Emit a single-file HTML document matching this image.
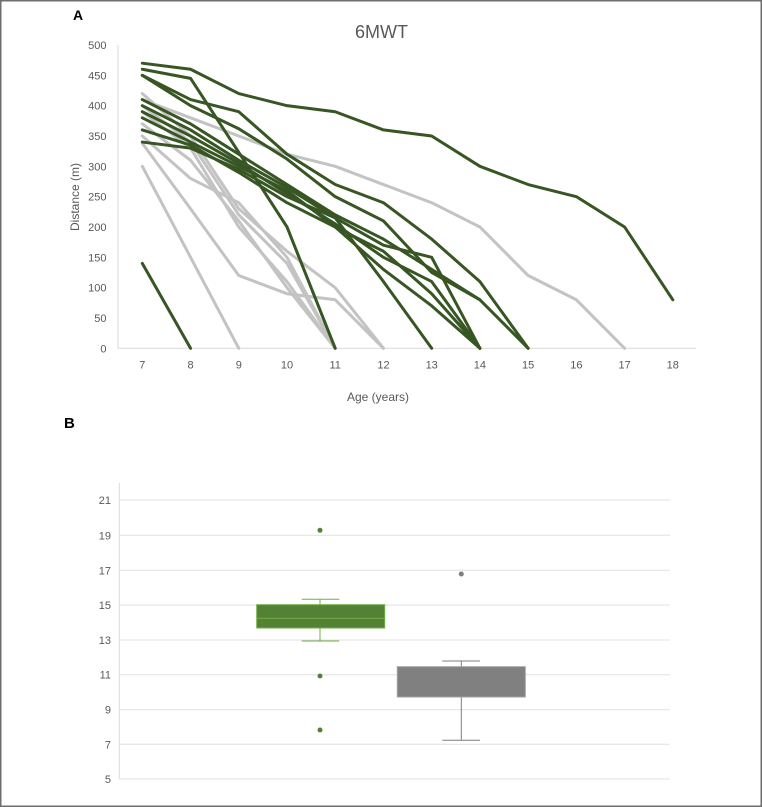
<!DOCTYPE html>
<html>
<head>
<meta charset="utf-8">
<style>
  html,body{margin:0;padding:0;background:#fff;}
  body{width:762px;height:807px;overflow:hidden;}
  svg{display:block;}
  text{font-family:"Liberation Sans",Arial,sans-serif;}
</style>
</head>
<body>
<svg width="762" height="807" viewBox="0 0 762 807" xmlns="http://www.w3.org/2000/svg">
  <rect x="0" y="0" width="762" height="807" fill="#fff"/>
  <rect x="0.75" y="0.75" width="760.5" height="805.5" fill="none" stroke="#6e6e6e" stroke-width="1.5"/>

  <!-- Panel A -->
  <text x="73" y="20" font-size="14" font-weight="bold" fill="#000">A</text>
  <text x="381.5" y="38" font-size="18" fill="#595959" text-anchor="middle">6MWT</text>

  <!-- axes -->
  <line x1="118" y1="45" x2="118" y2="348.3" stroke="#d9d9d9" stroke-width="1"/>
  <line x1="118" y1="348.3" x2="696" y2="348.3" stroke="#d9d9d9" stroke-width="1"/>

  <g font-size="11" fill="#595959" text-anchor="end">
    <text x="106.5" y="49">500</text>
    <text x="106.5" y="79.3">450</text>
    <text x="106.5" y="109.7">400</text>
    <text x="106.5" y="140">350</text>
    <text x="106.5" y="170.3">300</text>
    <text x="106.5" y="200.7">250</text>
    <text x="106.5" y="231">200</text>
    <text x="106.5" y="261.3">150</text>
    <text x="106.5" y="291.7">100</text>
    <text x="106.5" y="322">50</text>
    <text x="106.5" y="352.3">0</text>
  </g>
  <g font-size="11" fill="#595959" text-anchor="middle">
    <text x="142.3" y="368.5">7</text>
    <text x="190.5" y="368.5">8</text>
    <text x="238.8" y="368.5">9</text>
    <text x="287" y="368.5">10</text>
    <text x="335.2" y="368.5">11</text>
    <text x="383.5" y="368.5">12</text>
    <text x="431.7" y="368.5">13</text>
    <text x="479.9" y="368.5">14</text>
    <text x="528.1" y="368.5">15</text>
    <text x="576.4" y="368.5">16</text>
    <text x="624.6" y="368.5">17</text>
    <text x="672.8" y="368.5">18</text>
  </g>
  <text x="378" y="401" font-size="12" fill="#595959" text-anchor="middle">Age (years)</text>
  <text transform="translate(79,197) rotate(-90)" font-size="12" fill="#595959" text-anchor="middle">Distance (m)</text>

  <!-- data lines -->
  <g transform="translate(142.3,348.3) scale(48.23,-0.6066)" fill="none" stroke-linejoin="round" stroke-linecap="round">
    <g stroke="#c3c3c3">
      <polyline vector-effect="non-scaling-stroke" stroke-width="3" points="0,410 1,380 2,350 3,320 4,300 5,270 6,240 7,200 8,120 9,80 10,0"/>
      <polyline vector-effect="non-scaling-stroke" stroke-width="3" points="0,300 2,0"/>
      <polyline vector-effect="non-scaling-stroke" stroke-width="3" points="0,338 1,230 2,120 3,90 4,80 5,0"/>
      <polyline vector-effect="non-scaling-stroke" stroke-width="3" points="0,420 1,350 2,230 3,160 4,100 5,0"/>
      <polyline vector-effect="non-scaling-stroke" stroke-width="3" points="0,400 1,340 2,220 3,140 4,0"/>
      <polyline vector-effect="non-scaling-stroke" stroke-width="3" points="0,390 1,330 2,200 3,110 4,0"/>
      <polyline vector-effect="non-scaling-stroke" stroke-width="3" points="0,370 1,310 2,210 3,100 4,0"/>
      <polyline vector-effect="non-scaling-stroke" stroke-width="3" points="0,350 1,280 2,240 3,150 4,0"/>
    </g>
    <g stroke="#375623">
      <polyline vector-effect="non-scaling-stroke" stroke-width="3" points="0,470 1,460 2,420 3,400 4,390 5,360 6,350 7,300 8,270 9,250 10,200 11,80"/>
      <polyline vector-effect="non-scaling-stroke" stroke-width="3" points="0,460 1,445 2,323 3,200 4,0"/>
      <polyline vector-effect="non-scaling-stroke" stroke-width="3" points="0,450 1,410 2,390 3,320 4,270 5,240 6,180 7,110 8,0"/>
      <polyline vector-effect="non-scaling-stroke" stroke-width="3" points="0,450 1,400 2,362 3,312 4,250 5,210 6,125 7,80 8,0"/>
      <polyline vector-effect="non-scaling-stroke" stroke-width="3" points="0,410 1,370 2,320 3,270 4,220 5,180 6,130 7,80"/>
      <polyline vector-effect="non-scaling-stroke" stroke-width="3" points="0,400 1,360 2,310 3,265 4,215 5,170 6,150 7,0"/>
      <polyline vector-effect="non-scaling-stroke" stroke-width="3" points="0,390 1,350 2,305 3,255 4,205 5,150 6,110 7,0"/>
      <polyline vector-effect="non-scaling-stroke" stroke-width="3" points="0,380 1,340 2,300 3,260 4,200 5,160 6,90 7,0"/>
      <polyline vector-effect="non-scaling-stroke" stroke-width="3" points="0,360 1,335 2,290 3,240 4,200 5,130 6,70 7,0"/>
      <polyline vector-effect="non-scaling-stroke" stroke-width="3" points="0,340 1,330 2,295 3,250 4,215 5,110 6,0"/>
      <polyline vector-effect="non-scaling-stroke" stroke-width="3" points="0,140 1,0"/>
    </g>
  </g>

  <!-- Panel B -->
  <text x="64" y="428" font-size="15" font-weight="bold" fill="#000">B</text>

  <g stroke="#e0e0e0" stroke-width="1">
    <line x1="119.3" y1="500" x2="670" y2="500"/>
    <line x1="119.3" y1="535.3" x2="670" y2="535.3"/>
    <line x1="119.3" y1="570.3" x2="670" y2="570.3"/>
    <line x1="119.3" y1="605" x2="670" y2="605"/>
    <line x1="119.3" y1="640" x2="670" y2="640"/>
    <line x1="119.3" y1="674.7" x2="670" y2="674.7"/>
    <line x1="119.3" y1="709.7" x2="670" y2="709.7"/>
    <line x1="119.3" y1="744.3" x2="670" y2="744.3"/>
    <line x1="119.3" y1="779" x2="670" y2="779"/>
  </g>
  <line x1="119.3" y1="483" x2="119.3" y2="779" stroke="#d9d9d9" stroke-width="1"/>

  <g font-size="11" fill="#595959" text-anchor="end">
    <text x="111" y="504">21</text>
    <text x="111" y="539.3">19</text>
    <text x="111" y="574.3">17</text>
    <text x="111" y="609">15</text>
    <text x="111" y="644">13</text>
    <text x="111" y="678.7">11</text>
    <text x="111" y="713.7">9</text>
    <text x="111" y="748.3">7</text>
    <text x="111" y="783">5</text>
  </g>

  <!-- green box -->
  <g stroke="#70ad47" stroke-width="1">
    <line x1="320" y1="599.3" x2="320" y2="604.7"/>
    <line x1="320" y1="628" x2="320" y2="641"/>
    <line x1="301.7" y1="599.3" x2="339.3" y2="599.3"/>
    <line x1="301.7" y1="641" x2="339.3" y2="641"/>
    <rect x="256.7" y="604.7" width="128" height="23.3" fill="#548235"/>
    <line x1="256.7" y1="618.3" x2="384.7" y2="618.3"/>
  </g>
  <g fill="#548235">
    <circle cx="320" cy="530.3" r="2.5"/>
    <circle cx="320" cy="676" r="2.5"/>
    <circle cx="320" cy="730" r="2.5"/>
  </g>

  <!-- gray box -->
  <g stroke="#7f7f7f" stroke-width="1">
    <line x1="461.3" y1="661" x2="461.3" y2="666.7"/>
    <line x1="461.3" y1="697" x2="461.3" y2="740.3"/>
    <line x1="442.3" y1="661" x2="480" y2="661"/>
    <line x1="442.3" y1="740.3" x2="480" y2="740.3"/>
    <rect x="397.3" y="666.7" width="128" height="30.3" fill="#808080" stroke="#a0a0a0"/>
  </g>
  <circle cx="461.3" cy="574" r="2.5" fill="#7f7f7f"/>
</svg>
</body>
</html>
